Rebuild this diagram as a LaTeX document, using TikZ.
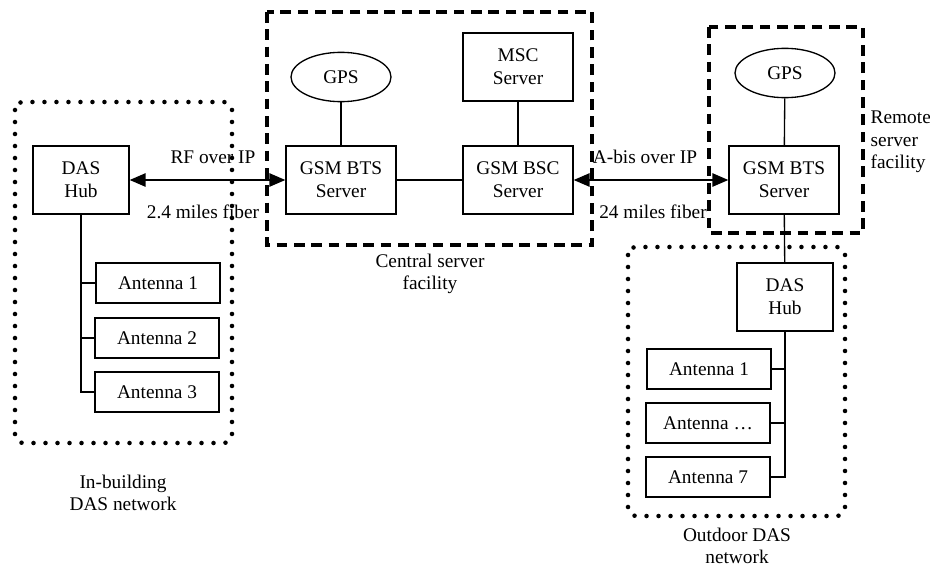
\documentclass[tikz,border=0pt]{standalone}
\usepackage{fontspec}
\setmainfont{Liberation Serif}
\usetikzlibrary{positioning,arrows.meta,shapes.geometric}

\begin{document}
\begin{tikzpicture}[x=0.75pt,y=-0.75pt,
  every node/.style={font=\fontsize{14.5}{17}\selectfont,align=center},
  unit/.style={shape=rectangle,draw,line width=1pt,inner sep=0pt,minimum width=82.5pt,minimum height=51pt},
  hub/.style={unit,minimum width=72pt},
  antenna/.style={unit,minimum width=93pt,minimum height=30pt},
  gps/.style={shape=ellipse,draw,line width=1pt,inner sep=0pt,minimum width=75pt,minimum height=37pt},
  tree/.style={line width=1.6pt},
  link/.style={line width=1pt},
  fiber/.style={line width=1.3pt,{Triangle[length=12pt,width=10pt]}-{Triangle[length=12pt,width=10pt]}},
  dashbox/.style={line width=2.3pt,dash pattern=on 8pt off 5pt},
  dotbox/.style={line width=3.4pt,line cap=round,dash pattern=on 0pt off 9pt,rounded corners=6pt}
]
\useasboundingbox (0,0) rectangle (930,567);

% facilities and networks
\draw[dotbox] (15,102) rectangle (232,443);
\draw[dashbox] (267,12) rectangle (592,245);
\draw[dashbox] (709,27) rectangle (863,233);
\draw[dotbox] (628,247) rectangle (845,516);

% in-building DAS network
\node[hub] (hubA) at (81,180) {DAS\\Hub};
\node[antenna] (antA1) at (158,283) {Antenna 1};
\node[antenna] (antA2) at (157,338) {Antenna 2};
\node[antenna] (antA3) at (157,392) {Antenna 3};
\node (netA) at (123,493) {In-building\\DAS network};

% central server facility
\node[gps] (gpsC) at (341,77) {GPS};
\node[unit] (mscC) at (518,67) {MSC\\Server};
\node[unit] (btsC) at (341,180) {GSM BTS\\Server};
\node[unit] (bscC) at (518,180) {GSM BSC\\Server};
\node (facC) at (430,274) {Central server\\facility};

% remote server facility
\node[gps] (gpsR) at (785,73) {GPS};
\node[unit] (btsR) at (784,180) {GSM BTS\\Server};
\node[anchor=west,align=left] (facR) at (866,142) {Remote\\server\\facility};

% outdoor DAS network
\node[hub] (hubB) at (785,297) {DAS\\Hub};
\node[antenna] (antB1) at (709,369) {Antenna 1};
\node[antenna] (antB2) at (708,423) {Antenna \dots};
\node[antenna] (antB3) at (708,477) {Antenna 7};
\node (netB) at (737,546) {Outdoor DAS\\network};

% fiber links
\draw[fiber] (hubA.east) -- (btsC.west);
\node (rfA) at (213,157) {RF over IP};
\node (rfB) at (203,212) {2.4 miles fiber};
\draw[fiber] (bscC.east) -- (btsR.west);
\node (abA) at (645,157) {A-bis over IP};
\node (abB) at (653,212) {24 miles fiber};

% connections
\draw[link] (gpsC) -- (btsC);
\draw[link] (mscC) -- (bscC);
\draw[link] (btsC) -- (bscC);
\draw[link] (gpsR) -- (btsR);
\draw[link] (btsR) -- (hubB);

\draw[tree] (hubA.south) |- (antA3.west);
\draw[tree] (hubA.south |- antA1.west) -- (antA1.west);
\draw[tree] (hubA.south |- antA2.west) -- (antA2.west);
\draw[tree] (hubB.south) |- (antB3.east);
\draw[tree] (hubB.south |- antB1.east) -- (antB1.east);
\draw[tree] (hubB.south |- antB2.east) -- (antB2.east);
\end{tikzpicture}
\end{document}
